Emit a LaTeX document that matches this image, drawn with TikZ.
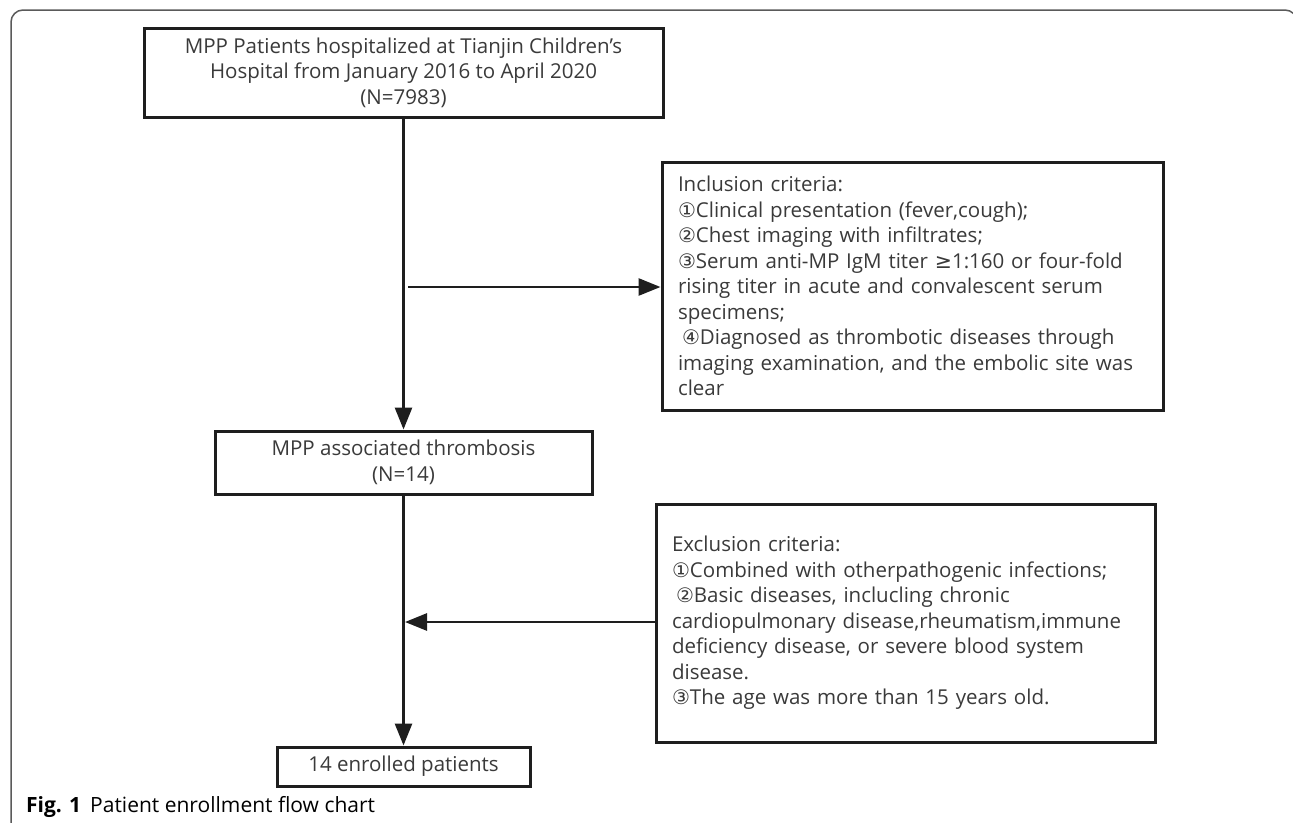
\documentclass[tikz,border=0pt]{standalone}
\usepackage{fontspec}
\setmainfont{Open Sans}
\newfontfamily\symf{DejaVu Sans}
\usetikzlibrary{arrows.meta}
\definecolor{linec}{HTML}{1E1E1E}
\definecolor{textc}{HTML}{3A3A3A}
\definecolor{framec}{HTML}{5A5A5A}
\newcommand{\cnum}[1]{{\symf\fontsize{20}{20}\selectfont #1}}
\begin{document}
\begin{tikzpicture}[x=1pt,y=-1pt,
  boxc/.style={draw=linec, line width=3pt, text=textc, rectangle, inner sep=0pt,
     font=\fontsize{20.5}{25.5}\selectfont},
  boxl/.style={boxc, align=left, inner xsep=16pt, inner ysep=0pt},
  arr/.style={draw=linec, line width=2.8pt, -{Triangle[length=22pt,width=17pt]}}]
\useasboundingbox (0,0) rectangle (1293,822);
\fill[white] (0,0) rectangle (1293,822);
% frame
\draw[framec, line width=1.5pt, rounded corners=12pt] (11,830) -- (11,10) -- (1297,10) -- (1297,120);
% boxes
\node[boxc, minimum width=519pt, minimum height=89pt, align=center] (b1) at (403.5,72.5)
  {MPP Patients hospitalized at Tianjin Children's\\Hospital from January 2016 to April 2020\\(N=7983)};
\node[boxc, minimum width=377pt, minimum height=63pt, align=center] (b2) at (403.5,462.5)
  {MPP associated thrombosis\\(N=14)};
\node[boxc, minimum width=253pt, minimum height=39pt, align=center] (b3) at (403.5,766.5)
  {14 enrolled patients};
\node[boxl, text width=469pt, minimum height=248pt] (inc) at (912.5,286)
  {\mbox{Inclusion criteria:}\\
   \mbox{\cnum{①}Clinical presentation (fever,cough);}\\
   \mbox{\cnum{②}Chest imaging with infiltrates;}\\
   \mbox{\cnum{③}Serum anti-MP IgM titer {\symf ≥}1:160 or four-fold}\\
   \mbox{rising titer in acute and convalescent serum}\\
   \mbox{specimens;}\\
   \mbox{\hspace*{4pt}\cnum{④}Diagnosed as thrombotic diseases through}\\
   \mbox{imaging examination, and the embolic site was}\\
   \mbox{clear}};
\node[boxl, text width=467pt, minimum height=238pt] (exc) at (905.5,623)
  {\mbox{Exclusion criteria:}\\
   \mbox{\cnum{①}Combined with otherpathogenic infections;}\\
   \mbox{\hspace*{4pt}\cnum{②}Basic diseases, inclucling chronic}\\
   \mbox{cardiopulmonary disease,rheumatism,immune}\\
   \mbox{deficiency disease, or severe blood system}\\
   \mbox{disease.}\\
   \mbox{\cnum{③}The age was more than 15 years old.}};
% connectors
\coordinate (is) at (408,287);
\coordinate (ee) at (405,622);
\draw[arr] (b1.south) -- (b2.north);
\draw[arr] (b2.south) -- (b3.north);
\draw[arr] (is) -- (is -| inc.west);
\draw[arr] (ee -| exc.west) -- (ee);
% caption
\node[anchor=west, inner sep=0pt, text=black, font=\fontsize{21}{21}\selectfont] (cap) at (26,807)
  {\textbf{Fig. 1}\hspace{9pt}Patient enrollment flow chart};
\end{tikzpicture}
\end{document}
